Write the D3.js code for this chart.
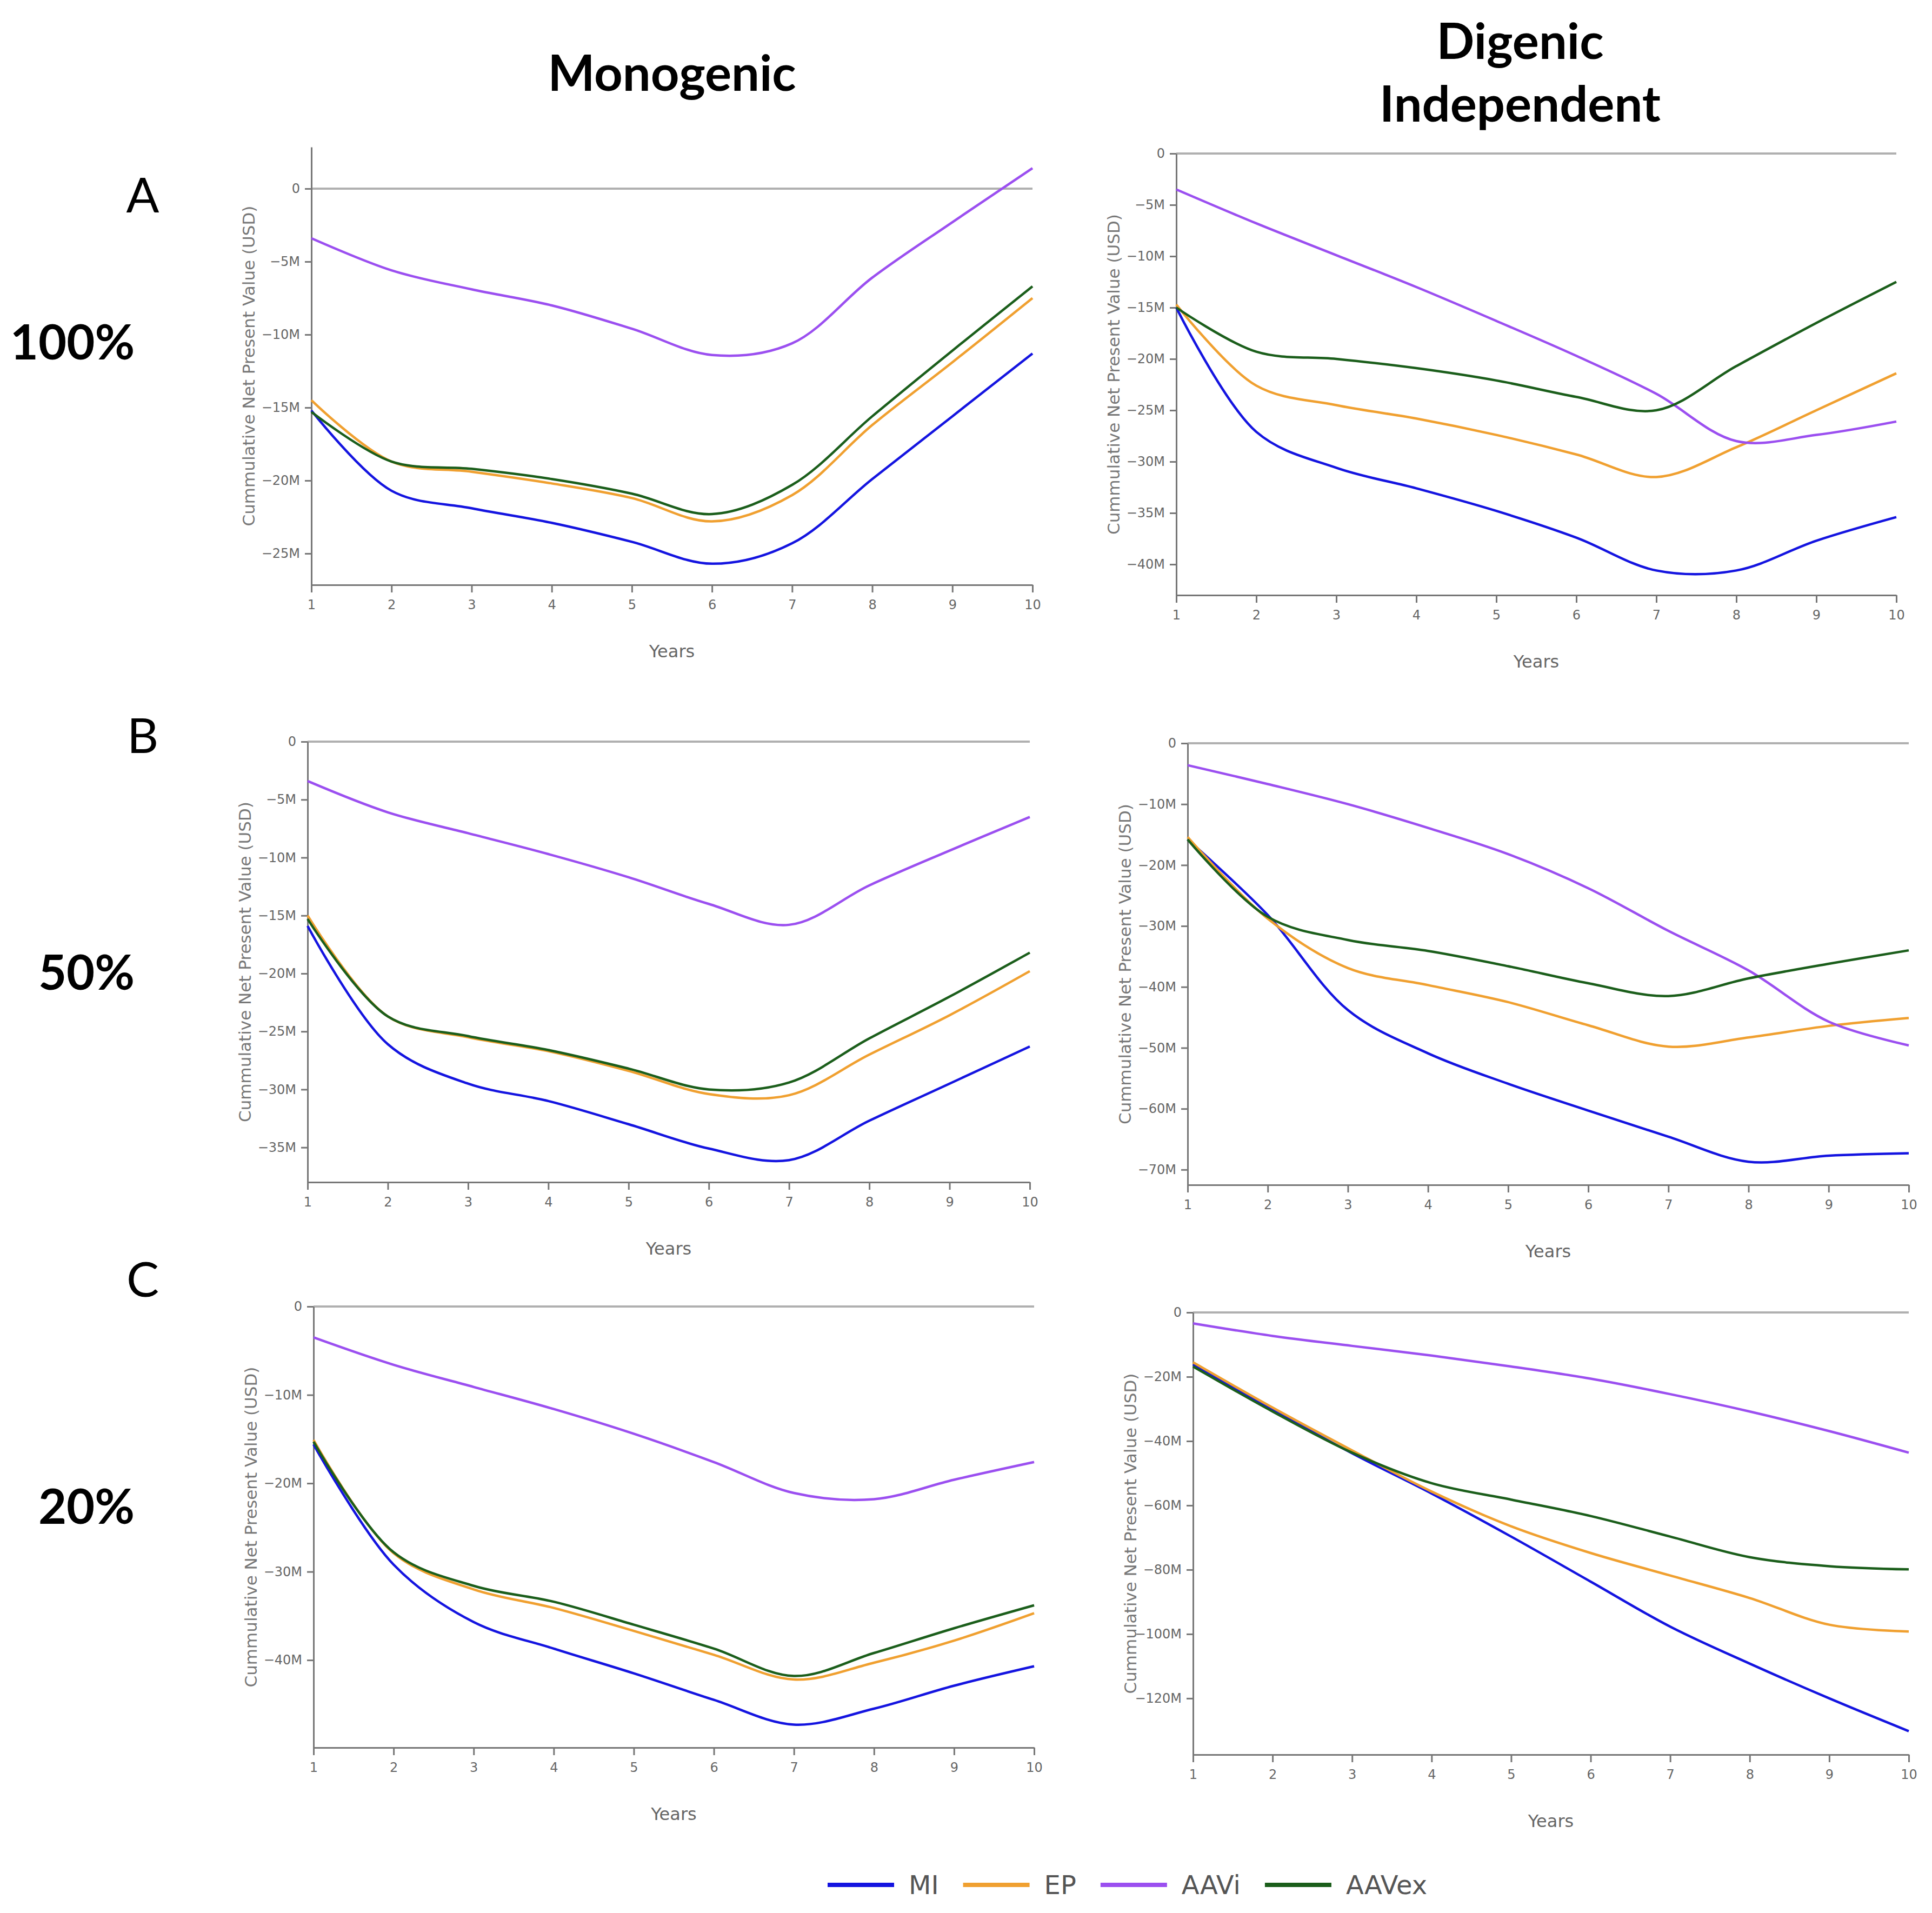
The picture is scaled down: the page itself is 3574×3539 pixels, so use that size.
<!DOCTYPE html>
<html>
<head>
<script src="https://d3js.org/d3.v7.min.js"></script>
<style>
  body { margin: 0; background: #fff; }
  .axis path, .axis line { stroke: #777; stroke-width: 3; }
  .axis text { font-family: "DejaVu Sans", sans-serif; font-size: 24px; fill: #666; }
  .big { font-family: Lato, "Open Sans", sans-serif; fill: #000; }
</style>
</head>
<body>
<svg id="svg" width="3574" height="3539"></svg>
<script>
// data (values in millions USD)
const years = [1, 2, 3, 4, 5, 6, 7, 8, 9, 10];
const seriesNames = ["MI", "EP", "AAVi", "AAVex"];
const seriesColors = ["#1414e0", "#f0a030", "#9b4ff0", "#1b5e1b"];

const mono100 = {
  MI:    [-15.2, -20.7, -21.9, -22.9, -24.2, -25.7, -24.3, -19.9, -15.6, -11.3],
  EP:    [-14.5, -18.7, -19.4, -20.2, -21.2, -22.8, -21.0, -16.2, -11.9, -7.5],
  AAVi:  [-3.4, -5.6, -6.9, -8.0, -9.6, -11.4, -10.6, -6.1, -2.3, 1.4],
  AAVex: [-15.3, -18.7, -19.2, -19.9, -20.9, -22.3, -20.3, -15.6, -11.1, -6.7]
};
const digenic100 = {
  MI:    [-15.0, -27.1, -30.6, -32.6, -34.8, -37.4, -40.6, -40.6, -37.7, -35.4],
  EP:    [-14.7, -22.6, -24.5, -25.8, -27.4, -29.3, -31.5, -28.6, -25.0, -21.4],
  AAVi:  [-3.5, -6.8, -9.9, -13.0, -16.3, -19.7, -23.4, -28.0, -27.4, -26.1],
  AAVex: [-15.0, -19.3, -20.0, -20.9, -22.1, -23.7, -25.0, -20.7, -16.5, -12.5]
};
const mono50 = {
  MI:    [-15.9, -26.1, -29.5, -31.0, -33.0, -35.1, -36.1, -32.7, -29.5, -26.3],
  EP:    [-15.0, -23.7, -25.5, -26.7, -28.4, -30.4, -30.5, -27.0, -23.6, -19.8],
  AAVi:  [-3.4, -6.1, -7.9, -9.7, -11.7, -14.0, -15.8, -12.4, -9.4, -6.5],
  AAVex: [-15.3, -23.7, -25.4, -26.6, -28.2, -30.0, -29.4, -25.6, -22.0, -18.2]
};
const digenic50 = {
  MI:    [-15.8, -28.2, -43.8, -50.9, -55.9, -60.3, -64.6, -68.7, -67.7, -67.3],
  EP:    [-15.4, -28.8, -36.9, -39.7, -42.5, -46.3, -49.8, -48.3, -46.4, -45.1],
  AAVi:  [-3.6, -6.7, -10.0, -13.9, -18.2, -23.8, -30.8, -37.3, -45.7, -49.6],
  AAVex: [-15.8, -28.5, -32.3, -34.1, -36.6, -39.4, -41.5, -38.6, -36.2, -34.0]
};
const mono20 = {
  MI:    [-15.6, -29.2, -35.7, -38.7, -41.5, -44.5, -47.3, -45.5, -42.9, -40.7],
  EP:    [-15.1, -27.9, -32.0, -34.1, -36.7, -39.4, -42.2, -40.3, -37.8, -34.7],
  AAVi:  [-3.5, -6.6, -9.1, -11.6, -14.4, -17.6, -21.1, -21.8, -19.6, -17.6],
  AAVex: [-15.3, -27.8, -31.6, -33.4, -36.0, -38.7, -41.8, -39.2, -36.4, -33.8]
};
const digenic20 = {
  MI:    [-16.2, -30.2, -43.8, -56.3, -69.7, -83.7, -97.7, -109.2, -120.0, -130.2],
  EP:    [-15.5, -29.6, -42.9, -55.7, -66.5, -74.8, -81.8, -88.8, -97.1, -99.2],
  AAVi:  [-3.4, -7.3, -10.4, -13.4, -16.8, -20.6, -25.4, -30.8, -36.9, -43.6],
  AAVex: [-16.8, -30.8, -43.6, -53.1, -58.2, -63.3, -69.7, -76.1, -78.9, -79.9]
};

const ticks5 = [0, -5, -10, -15, -20, -25, -30, -35, -40];
const ticks10 = [0, -10, -20, -30, -40, -50, -60, -70];
const ticks20 = [0, -20, -40, -60, -80, -100, -120];

const columnTitles = [["Monogenic"], ["Digenic", "Independent"]];
const rowLetters = ["A", "B", "C"];
const rowPercents = ["100%", "50%", "20%"];

// panels: data, y domain, ticks, pixel box
const panels = [
  { data: mono100,    domain: [-27.15, 2.85], ticks: ticks5.slice(0, 6), box: [576, 1910, 272, 1082] },
  { data: digenic100, domain: [-43, 0],       ticks: ticks5,             box: [2176, 3508, 284, 1101] },
  { data: mono50,     domain: [-38, 0],       ticks: ticks5.slice(0, 8), box: [569, 1905, 1372, 2187] },
  { data: digenic50,  domain: [-72.5, 0],     ticks: ticks10,            box: [2197, 3531, 1375, 2192] },
  { data: mono20,     domain: [-49.9, 0],     ticks: ticks10.slice(0, 5), box: [580, 1913, 2417, 3233] },
  { data: digenic20,  domain: [-137.5, 0],    ticks: ticks20,            box: [2207, 3531, 2428, 3246] }
];

const svg = d3.select("svg#svg");
const fmt = d => d === 0 ? "0" : "\u2212" + Math.abs(d) + "M";

panels.forEach(p => {
  const [x0, x1, y0, y1] = p.box;
  const xScale = d3.scaleLinear().domain([1, 10]).range([x0, x1]);
  const yScale = d3.scaleLinear().domain(p.domain).range([y1, y0]);
  const g = svg.append("g");

  // zero line
  g.append("line")
   .attr("x1", xScale(1)).attr("x2", xScale(10))
   .attr("y1", yScale(0)).attr("y2", yScale(0))
   .attr("stroke", "#b0b0b0").attr("stroke-width", 4);

  g.append("g").attr("class", "axis")
   .attr("transform", `translate(${x0},0)`)
   .call(d3.axisLeft(yScale).tickValues(p.ticks).tickFormat(fmt).tickSize(12).tickSizeOuter(0).tickPadding(9));

  g.append("g").attr("class", "axis")
   .attr("transform", `translate(0,${y1})`)
   .call(d3.axisBottom(xScale).tickValues(years).tickSize(14).tickSizeOuter(0).tickPadding(14));

  // axis titles
  g.append("text")
   .attr("transform", `translate(${x0 - 116},${(y0 + y1) / 2}) rotate(-90)`)
   .attr("text-anchor", "middle").attr("dominant-baseline", "central")
   .style("font-family", "DejaVu Sans, sans-serif").style("font-size", "31px").style("fill", "#777")
   .text("Cummulative Net Present Value (USD)");
  g.append("text")
   .attr("x", (x0 + x1) / 2).attr("y", y1 + 123)
   .attr("text-anchor", "middle").attr("dominant-baseline", "central")
   .style("font-family", "DejaVu Sans, sans-serif").style("font-size", "32px").style("fill", "#666")
   .text("Years");

  const lineGen = d3.line()
    .x((d, i) => xScale(years[i]))
    .y(d => yScale(d))
    .curve(d3.curveCatmullRom.alpha(0.5));

  seriesNames.forEach((name, i) => {
    g.append("path")
     .attr("fill", "none")
     .attr("stroke", seriesColors[i])
     .attr("stroke-width", 4.5)
     .attr("d", lineGen(p.data[name]));
  });
});

// column titles
const titleX = [1243, 2812];
columnTitles.forEach((lines, c) => {
  const yStart = lines.length === 1 ? 132 : 73;
  lines.forEach((t, k) => {
    svg.append("text").attr("class", "big")
       .attr("x", titleX[c]).attr("y", yStart + k * 116)
       .attr("text-anchor", "middle").attr("dominant-baseline", "central")
       .style("font-size", "92px").style("font-weight", "bold")
       .text(t);
  });
});

// row labels
const letterY = [358, 1358, 2364];
const percentY = [630, 1796, 2784];
rowLetters.forEach((t, r) => {
  svg.append("text").attr("class", "big")
     .attr("x", 264).attr("y", letterY[r])
     .attr("text-anchor", "middle").attr("dominant-baseline", "central")
     .style("font-size", "90px")
     .text(t);
  svg.append("text").attr("class", "big")
     .attr("x", r === 0 ? 134 : 160).attr("y", percentY[r])
     .attr("text-anchor", "middle").attr("dominant-baseline", "central")
     .style("font-size", "90px").style("font-weight", "bold")
     .text(rowPercents[r]);
});

// legend
const legend = svg.append("g").attr("transform", "translate(1531,3487)");
let lx = 0;
seriesNames.forEach((name, i) => {
  legend.append("line")
        .attr("x1", lx).attr("x2", lx + 123)
        .attr("y1", 0).attr("y2", 0)
        .attr("stroke", seriesColors[i]).attr("stroke-width", 8);
  const t = legend.append("text")
        .attr("x", lx + 150).attr("y", 0)
        .attr("dominant-baseline", "central")
        .style("font-family", "DejaVu Sans, sans-serif").style("font-size", "48px").style("fill", "#555")
        .text(name);
  lx += 150 + t.node().getComputedTextLength() + 45;
});
</script>
</body>
</html>
